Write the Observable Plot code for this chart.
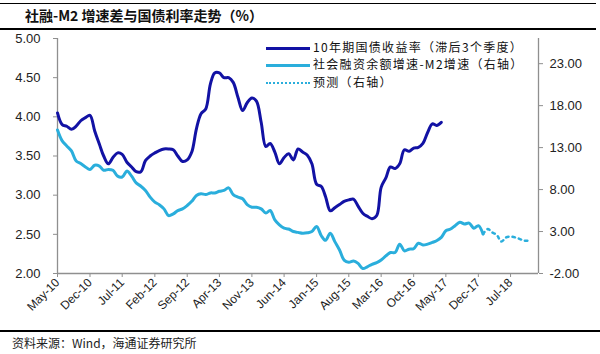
<!DOCTYPE html>
<html><head><meta charset="utf-8">
<script src="https://cdn.jsdelivr.net/npm/d3@7"></script>
<script src="https://cdn.jsdelivr.net/npm/@observablehq/plot@0.6"></script>
<style>
body{margin:0;background:#fff;font-family:"Liberation Sans",Arial,sans-serif;}
#wrap{position:relative;width:600px;height:354px;overflow:hidden;background:#fff;}
#title{position:absolute;left:0;top:3px;width:596px;height:27px;border-top:1.5px solid #000;border-bottom:2px solid #000;box-sizing:border-box;font-family:"Noto Sans CJK SC",sans-serif;font-weight:bold;font-size:14px;line-height:23px;padding-left:25px;color:#111;}
#chart{position:absolute;left:0;top:30px;}
#caption{position:absolute;left:0;top:330px;width:596px;border-top:2px solid #000;font-family:"Noto Sans CJK SC",sans-serif;font-size:12px;line-height:22px;padding-left:12px;color:#222;}
.leg{position:absolute;left:266px;height:17px;font-family:"Noto Sans CJK SC",sans-serif;font-size:12px;letter-spacing:1.3px;line-height:17px;color:#111;white-space:nowrap;}
.leg .sw{display:inline-block;width:44px;height:0;vertical-align:middle;margin-right:3px;}
</style></head>
<body>
<div id="wrap">
  <div id="title">社融-M2 增速差与国债利率走势（%）</div>
  <div id="chart"></div>
  <div id="caption">资料来源：Wind，海通证券研究所</div>
</div>
<script>
// Tick labels
const xTickLabels = ["May-10","Dec-10","Jul-11","Feb-12","Sep-12","Apr-13","Nov-13","Jun-14","Jan-15","Aug-15","Mar-16","Oct-16","May-17","Dec-17","Jul-18"];
const leftTicks = [2.0, 2.5, 3.0, 3.5, 4.0, 4.5, 5.0];
const rightTicks = [-2, 3, 8, 13, 18, 23];
const seriesStart = "2010-05";
const forecastStart = "2018-01";

// 10年期国债收益率（滞后3个季度）, monthly from May-10 (left axis)
const yieldValues = [4.05,3.90,3.88,3.84,3.88,3.95,3.99,4.02,3.82,3.65,3.50,3.40,3.48,3.54,3.52,3.42,3.36,3.30,3.30,3.44,
3.50,3.54,3.57,3.59,3.59,3.58,3.50,3.43,3.45,3.55,3.85,4.04,4.10,4.42,4.56,4.56,4.50,4.50,4.44,4.25,
4.08,4.18,4.24,4.20,3.93,3.62,3.66,3.55,3.40,3.48,3.53,3.45,3.59,3.55,3.51,3.40,3.14,3.11,2.98,2.80,
2.84,2.88,2.92,2.94,2.95,2.86,2.77,2.73,2.70,2.74,3.10,3.22,3.36,3.34,3.40,3.58,3.56,3.60,3.61,3.66,
3.80,3.91,3.89,3.93];

// 社会融资余额增速-M2增速（右轴）, monthly from May-10
const spreadValues = [15.1,13.8,13.2,12.6,11.4,11.1,10.7,10.4,10.9,10.8,10.3,10.4,10.3,9.6,9.5,10.2,9.6,8.8,8.4,7.9,
7.1,6.5,6.2,5.7,4.9,5.1,5.5,5.7,6.1,6.6,7.3,7.5,7.4,7.6,7.6,7.8,7.9,8.2,7.4,7.1,
6.9,6.2,5.9,5.9,5.7,5.2,5.5,4.4,3.8,3.4,3.3,3.0,2.9,2.8,2.85,3.0,3.6,2.5,1.95,2.8,
1.8,0.8,-0.4,-0.65,-0.5,-0.8,-1.4,-1.2,-0.9,-0.7,-0.4,0.1,0.5,0.5,1.5,0.7,0.9,0.95,1.6,1.4,
1.5,1.7,1.9,2.3,3.1,3.3,3.7,4.1,3.9,4.0,3.4,3.7,2.7];

// 预测（右轴）, monthly from Jan-18
const forecastValues = [2.7,3.3,2.9,2.6,1.8,2.3,2.4,2.3,2.1,1.9,1.95];

const parseMonth = d3.utcParse("%Y-%m");
const monthsFrom = (start, vals) => vals.map((v, i) => ({date: d3.utcMonth.offset(parseMonth(start), i), v}));
const yieldData = monthsFrom(seriesStart, yieldValues);
const spreadData = monthsFrom(seriesStart, spreadValues);
const forecastData = monthsFrom(forecastStart, forecastValues);

const parseTick = d3.utcParse("%b-%y");
const xTicks = xTickLabels.map(parseTick);
const xDomain = [parseMonth("2010-05"), parseMonth("2019-01")];

// right axis [-2, 26] shares the pixel range of left [2, 5]
const toLeft = v => 2 + (v + 2) * 3 / 28;
const fromLeft = y => (y - 2) * 28 / 3 - 2;

const navy = "#1212a4";
const cyan = "#2aaedc";
const axisGray = "#8f8f8f";

const chart = Plot.plot({
  width: 600, height: 302,
  marginLeft: 57, marginRight: 62, marginTop: 8, marginBottom: 59,
  x: {type: "utc", domain: xDomain},
  y: {domain: [2, 5], label: null},
  style: {fontFamily: "'Liberation Sans', Arial, sans-serif", fontSize: "13px", color: "#222", background: "transparent"},
  marks: [
    Plot.ruleY([2], {stroke: axisGray, strokeWidth: 1.3}),
    Plot.ruleX([xDomain[0], xDomain[1]], {stroke: axisGray, strokeWidth: 1.3}),
    Plot.axisY(leftTicks, {anchor: "left", tickFormat: d => d.toFixed(2), tickSize: 4, tickPadding: 13, stroke: axisGray, fill: "#222", fontSize: 13, label: null}),
    Plot.axisY(rightTicks.map(toLeft), {anchor: "right", tickFormat: d => fromLeft(d).toFixed(2), tickSize: 4, tickPadding: 7, stroke: axisGray, fill: "#222", fontSize: 13, label: null}),
    Plot.axisX(xTicks, {anchor: "bottom", tickFormat: d3.utcFormat("%b-%y"), tickRotate: -45, tickSize: 4, tickPadding: 3, stroke: axisGray, fill: "#222", fontSize: 12, label: null}),
    Plot.lineY(spreadData, {x: "date", y: d => toLeft(d.v), stroke: cyan, strokeWidth: 3, curve: "catmull-rom"}),
    Plot.lineY(forecastData, {x: "date", y: d => toLeft(d.v), stroke: cyan, strokeWidth: 2.5, strokeDasharray: "2.5 4", curve: "catmull-rom"}),
    Plot.lineY(yieldData, {x: "date", y: "v", stroke: navy, strokeWidth: 3, curve: "catmull-rom"})
  ]
});
document.getElementById("chart").appendChild(chart);

// legend
const legendItems = [
  {label: "10年期国债收益率（滞后3个季度）", color: navy, style: "solid", w: 3, top: 37.5},
  {label: "社会融资余额增速-M2增速（右轴）", color: cyan, style: "solid", w: 3, top: 55},
  {label: "预测（右轴）", color: cyan, style: "dotted", w: 2.5, top: 72.5}
];
const wrap = document.getElementById("wrap");
for (const it of legendItems) {
  const d = document.createElement("div");
  d.className = "leg";
  d.style.top = it.top + "px";
  const sw = document.createElement("span");
  sw.className = "sw";
  sw.style.borderTop = `${it.w}px ${it.style} ${it.color}`;
  d.appendChild(sw);
  d.appendChild(document.createTextNode(it.label));
  wrap.appendChild(d);
}
</script>
</body></html>
